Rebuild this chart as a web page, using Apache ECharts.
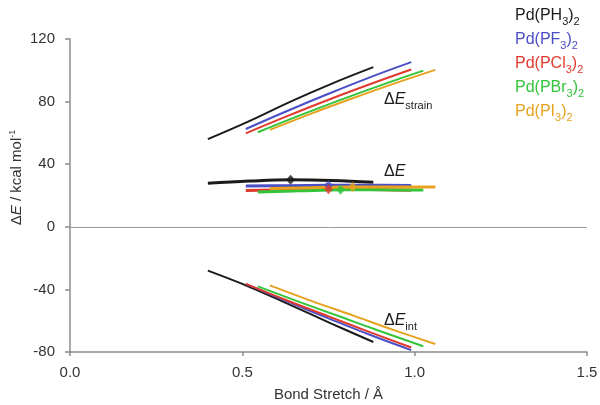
<!DOCTYPE html>
<html><head><meta charset="utf-8">
<script src="https://cdn.jsdelivr.net/npm/echarts@6/dist/echarts.min.js"></script>
<style>html,body{margin:0;padding:0;background:#fff}#c{width:600px;height:405px}</style>
</head><body><div id="c"></div>
<script>
// ---- data ----
const names = ['PH3', 'PF3', 'PCl3', 'PBr3', 'PI3'];
const xPH3   = [0.40, 0.52, 0.64, 0.76, 0.88];
const strainPH3 = [56.0, 67.5, 80.0, 91.5, 102.0];
const dePH3  = [27.8, 29.2, 30.0, 29.6, 28.4];
const intPH3 = [-28.0, -38.3, -50.0, -62.0, -73.6];

const xPF3   = [0.51, 0.63, 0.75, 0.87, 0.99];
const strainPF3 = [62.5, 74.0, 85.0, 95.5, 105.2];
const dePF3  = [26.0, 26.3, 26.5, 26.5, 26.4];
const intPF3 = [-36.5, -47.7, -58.5, -69.0, -78.8];

const xPCl3  = [0.51, 0.63, 0.75, 0.87, 0.99];
const strainPCl3 = [59.7, 70.7, 81.2, 91.1, 100.5];
const dePCl3 = [23.2, 23.6, 24.0, 23.8, 23.4];
const intPCl3 = [-36.5, -47.1, -57.2, -67.3, -77.1];

const xPBr3  = [0.545, 0.665, 0.785, 0.905, 1.025];
const strainPBr3 = [60.4, 71.0, 81.1, 90.7, 99.8];
const dePBr3 = [22.3, 23.0, 23.6, 23.6, 23.5];
const intPBr3 = [-38.1, -48.0, -57.5, -67.1, -76.3];

const xPI3   = [0.58, 0.70, 0.82, 0.94, 1.06];
const strainPI3 = [61.9, 72.3, 82.1, 91.5, 100.3];
const dePI3  = [24.5, 25.0, 25.5, 25.5, 25.4];
const intPI3 = [-37.4, -47.3, -56.6, -66.0, -74.9];

// transition-state markers on the ΔE curves
const markX = [0.64, 0.75, 0.75, 0.785, 0.82];
const markY = [30.0, 26.6, 24.0, 23.6, 25.5];

const xTicks = [0, 0.5, 1.0, 1.5];
const xTickLabels = ['0.0', '0.5', '1.0', '1.5'];
const yTickLabels = ['-80', '-40', '0', '40', '80', '120'];

// curve label anchors (data coords)
const curveLabelPos = [[0.91, 81], [0.91, 35], [0.91, -60]];

// ---- styles ----
const colors = ['#1b1b1b', '#4a4fc6', '#e03a2f', '#33c43a', '#e6a21e'];
const FONT = '"Liberation Sans", Arial, Helvetica, sans-serif';

const groups = [
  [xPH3, strainPH3, dePH3, intPH3],
  [xPF3, strainPF3, dePF3, intPF3],
  [xPCl3, strainPCl3, dePCl3, intPCl3],
  [xPBr3, strainPBr3, dePBr3, intPBr3],
  [xPI3, strainPI3, dePI3, intPI3]
];

function pairs(xs, ys) { return xs.map((x, i) => [x, ys[i]]); }

const series = [];
groups.forEach((g, k) => {
  [[g[1], 2], [g[2], 3], [g[3], 2]].forEach(([ys, w], j) => {
    series.push({
      type: 'line', name: names[k] + '_' + j, data: pairs(g[0], ys),
      smooth: 0.4, showSymbol: false, silent: true, z: 3,
      lineStyle: { color: colors[k], width: w }
    });
  });
});
// zero line
series.push({
  type: 'line', data: [], silent: true,
  markLine: { silent: true, symbol: 'none', label: { show: false },
    lineStyle: { color: '#9a9a9a', width: 1, type: 'solid' },
    data: [{ yAxis: 0 }] }
});
// markers
markX.forEach((x, k) => {
  series.push({
    type: 'scatter', data: [[x, markY[k]]], symbol: 'diamond', symbolSize: [9, 10],
    itemStyle: { color: colors[k] }, z: 5, silent: true
  });
});

const chart = echarts.init(document.getElementById('c'), null, { renderer: 'canvas' });
const axisColor = '#8c8c8c';
const txt = '#333333';
chart.setOption({
  animation: false,
  backgroundColor: '#fff',
  grid: { left: 70, right: 13, top: 39, bottom: 53, containLabel: false, outerBoundsMode: 'none' },
  xAxis: {
    type: 'value', min: 0, max: 1.5, interval: 0.5,
    axisLine: { onZero: false, lineStyle: { color: axisColor, width: 1.5 } },
    axisTick: { show: true, length: 4, lineStyle: { color: axisColor, width: 1.5 } },
    splitLine: { show: false },
    axisLabel: { color: txt, fontSize: 15, fontFamily: FONT, margin: 13,
      formatter: v => xTickLabels[xTicks.findIndex(t => Math.abs(t - v) < 1e-6)] },
    name: 'Bond Stretch / Å', nameLocation: 'middle', nameGap: 35, nameMoveOverlap: false,
    nameTextStyle: { color: txt, fontSize: 15, fontFamily: FONT }
  },
  yAxis: {
    type: 'value', min: -80, max: 120, interval: 40,
    axisLine: { show: true, lineStyle: { color: axisColor, width: 1.5 } },
    axisTick: { show: true, length: 5, lineStyle: { color: axisColor, width: 1.5 } },
    splitLine: { show: false },
    axisLabel: { color: txt, fontSize: 15, fontFamily: FONT, margin: 15,
      formatter: v => yTickLabels[Math.round((v + 80) / 40)] },
    name: '{n|Δ}{i|E}{n| / kcal mol}{sup|-1}', nameLocation: 'middle', nameGap: 44,
    nameMoveOverlap: false,
    nameRotate: 90,
    nameTextStyle: { color: txt, fontSize: 15, fontFamily: FONT, padding: [0, 0, 0, 36],
      rich: {
        n: { fontSize: 15, fontFamily: FONT, color: txt, lineHeight: 18 },
        i: { fontSize: 15, fontFamily: FONT, fontStyle: 'italic', color: txt, lineHeight: 18 },
        sup: { fontSize: 9, fontFamily: FONT, color: txt, verticalAlign: 'top', lineHeight: 18, padding: [0, 0, 6, 0] }
      } }
  },
  series: series
});

// ---- text annotations ----
const baseRich = (col) => ({
  n: { fontSize: 16, fontFamily: FONT, fill: col, lineHeight: 20, verticalAlign: 'bottom' },
  i: { fontSize: 16, fontFamily: FONT, fill: col, fontStyle: 'italic', lineHeight: 20, verticalAlign: 'bottom' },
  s: { fontSize: 11, fontFamily: FONT, fill: col, lineHeight: 14, verticalAlign: 'bottom', padding: [0, 0, -3, 0] }
});
const legendTexts = [
  '{n|Pd(PH}{s|3}{n|)}{s|2}',
  '{n|Pd(PF}{s|3}{n|)}{s|2}',
  '{n|Pd(PCl}{s|3}{n|)}{s|2}',
  '{n|Pd(PBr}{s|3}{n|)}{s|2}',
  '{n|Pd(PI}{s|3}{n|)}{s|2}'
];
const curveTexts = ['{n|Δ}{i|E}{s|strain}', '{n|Δ}{i|E}', '{n|Δ}{i|E}{s|int}'];

const graphics = [];
legendTexts.forEach((t, k) => {
  graphics.push({
    type: 'text', left: 515, top: 8 + k * 24,
    style: { text: t, fill: colors[k], rich: baseRich(colors[k]) }
  });
});
curveTexts.forEach((t, k) => {
  const p = chart.convertToPixel({ gridIndex: 0 }, curveLabelPos[k]);
  graphics.push({
    type: 'text', x: Math.round(p[0]), y: Math.round(p[1]) - 12,
    style: { text: t, fill: '#1b1b1b', rich: baseRich('#1b1b1b') }
  });
});
chart.setOption({ graphic: graphics });
</script>
</body></html>
